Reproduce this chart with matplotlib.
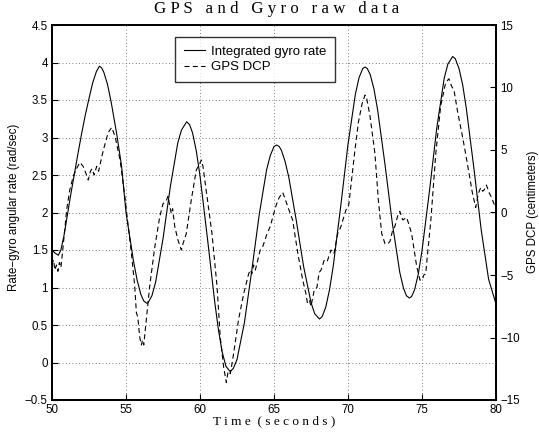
import matplotlib
matplotlib.use("Agg")
import matplotlib.pyplot as plt

# ── data ────────────────────────────────────────────────────────────────────
# integrated gyro rate, rad/sec (left axis)
t_gyro = [50.0, 50.2, 50.43, 50.6, 50.8, 51.0, 51.25, 51.5, 51.75, 52.0,
          52.25, 52.5, 52.75, 53.0, 53.2, 53.35, 53.5, 53.75, 54.0, 54.37,
          54.7, 55.0, 55.5, 55.75, 56.0, 56.2, 56.4, 56.5, 56.75, 57.0,
          57.5, 58.0, 58.5, 58.75, 59.1, 59.3, 59.5, 59.75, 60.0, 60.5,
          61.0, 61.25, 61.5, 61.75, 62.03, 62.25, 62.5, 63.0, 63.5, 64.0,
          64.5, 64.75, 65.0, 65.18, 65.35, 65.5, 65.75, 66.0, 66.5, 67.0,
          67.5, 67.75, 68.07, 68.25, 68.5, 68.75, 69.0, 69.5, 70.0, 70.5,
          70.75, 71.0, 71.15, 71.3, 71.5, 71.75, 72.0, 72.5, 73.0, 73.5,
          73.75, 73.95, 74.15, 74.3, 74.5, 74.75, 75.0, 75.5, 76.0, 76.5,
          76.75, 77.07, 77.25, 77.5, 77.75, 78.0, 78.5, 79.0, 79.5, 80.0]
gyro_rate = [1.50, 1.46, 1.43, 1.50, 1.68, 1.92, 2.22, 2.50, 2.78, 3.05,
             3.30, 3.52, 3.73, 3.88, 3.95, 3.93, 3.87, 3.71, 3.47, 3.05,
             2.62, 2.00, 1.36, 1.10, 0.91, 0.82, 0.79, 0.80, 0.89, 1.07,
             1.65, 2.35, 2.93, 3.10, 3.21, 3.17, 3.06, 2.82, 2.49, 1.66,
             0.80, 0.43, 0.14, -0.05, -0.12, -0.08, 0.04, 0.53, 1.23, 1.97,
             2.57, 2.76, 2.88, 2.90, 2.88, 2.83, 2.68, 2.47, 1.90, 1.28,
             0.80, 0.65, 0.58, 0.61, 0.74, 0.97, 1.28, 2.07, 2.91, 3.58,
             3.80, 3.92, 3.94, 3.92, 3.84, 3.65, 3.37, 2.64, 1.85, 1.20,
             0.99, 0.89, 0.86, 0.88, 0.97, 1.18, 1.49, 2.28, 3.13, 3.79,
             3.98, 4.08, 4.05, 3.92, 3.70, 3.38, 2.60, 1.77, 1.11, 0.78]

# GPS DCP, centimeters (right axis)
t_gps = [50.0, 50.1, 50.2, 50.3, 50.4, 50.5, 50.6, 50.7, 50.85, 51.0,
         51.2, 51.44, 51.65, 51.89, 52.1, 52.3, 52.45, 52.6, 52.7, 52.85,
         53.02, 53.15, 53.24, 53.47, 53.8, 54.03, 54.26, 54.6, 54.93, 55.1,
         55.36, 55.5, 55.59, 55.7, 55.8, 55.93, 56.04, 56.12, 56.2, 56.37,
         56.6, 56.94, 57.27, 57.5, 57.7, 57.84, 57.95, 58.06, 58.15, 58.29,
         58.51, 58.74, 58.85, 59.07, 59.41, 59.75, 60.1, 60.2, 60.47, 60.81,
         61.15, 61.37, 61.6, 61.78, 61.9, 62.05, 62.27, 62.6, 62.95, 63.29,
         63.4, 63.51, 63.62, 63.74, 64.07, 64.25, 64.53, 64.75, 64.98, 65.15,
         65.35, 65.59, 65.75, 65.92, 66.26, 66.6, 66.94, 67.16, 67.25, 67.39,
         67.5, 67.72, 67.9, 68.05, 68.18, 68.4, 68.6, 68.85, 69.05, 69.3,
         69.5, 69.86, 70.05, 70.25, 70.45, 70.7, 70.95, 71.15, 71.25, 71.49,
         71.82, 72.05, 72.28, 72.5, 72.7, 72.84, 73.0, 73.17, 73.35, 73.5,
         73.7, 73.96, 74.1, 74.3, 74.64, 74.86, 75.02, 75.12, 75.25, 75.4,
         75.6, 75.93, 76.26, 76.6, 76.82, 77.0, 77.16, 77.4, 77.7, 77.95,
         78.2, 78.4, 78.63, 78.8, 78.97, 79.1, 79.2, 79.35, 79.53, 79.7,
         79.86, 80.0]
gps_dcp = [-4.2, -3.8, -4.6, -4.2, -4.7, -4.0, -4.4, -3.3, -1.5, 0.3,
           1.8, 2.9, 3.5, 4.0, 3.7, 3.1, 2.6, 3.3, 3.5, 3.0,
           3.7, 3.3, 3.8, 5.0, 6.4, 6.8, 6.1, 4.2, 1.2, -0.6,
           -3.2, -4.8, -5.9, -8.0, -8.4, -10.0, -10.6, -10.2, -10.6, -8.6,
           -5.9, -2.8, -0.4, 0.7, 0.9, 1.3, 0.6, -0.1, 0.3, -1.1,
           -2.2, -3.0, -2.5, -1.7, 1.0, 3.4, 4.2, 3.7, 1.3, -1.7,
           -5.9, -10.0, -12.4, -13.6, -12.7, -12.9, -11.3, -8.6, -6.5, -4.9,
           -4.6, -4.9, -4.2, -4.6, -3.0, -2.7, -1.7, -1.1, -0.1, 0.6,
           1.2, 1.6, 1.1, 0.5, -0.6, -3.2, -5.4, -6.5, -7.2, -7.0,
           -7.5, -6.2, -6.0, -4.8, -4.6, -3.8, -3.9, -3.0, -3.3, -1.7,
           -1.2, 0.2, 0.6, 2.7, 4.8, 7.2, 8.7, 9.4, 9.2, 7.7,
           4.7, 1.0, -1.7, -2.5, -2.5, -2.3, -1.5, -1.1, -0.3, 0.1,
           -0.6, -0.4, -0.9, -1.7, -4.3, -5.4, -5.4, -5.0, -4.9, -3.0,
           -0.6, 4.7, 8.5, 10.4, 10.7, 10.1, 9.8, 8.1, 6.3, 4.7,
           3.0, 1.6, 0.4, 1.5, 2.0, 1.7, 1.8, 2.2, 1.6, 1.2,
           0.7, 0.5]

x_ticks = [50, 55, 60, 65, 70, 75, 80]
left_ticks = [-0.5, 0, 0.5, 1, 1.5, 2, 2.5, 3, 3.5, 4, 4.5]
left_labels = ["\u22120.5", "0", "0.5", "1", "1.5", "2", "2.5", "3", "3.5", "4", "4.5"]
right_ticks = [-15, -10, -5, 0, 5, 10, 15]
right_labels = ["\u221215", "\u221210", "\u22125", "0", "5", "10", "15"]

SANS = "Liberation Sans"
SERIF = "Liberation Serif"

fig = plt.figure(figsize=(5.39, 4.38), dpi=100)
fig.patch.set_facecolor("white")
ax = fig.add_axes([52 / 539, 1 - 400 / 438, 444 / 539, 375 / 438])
ax2 = ax.twinx()

l1, = ax.plot(t_gyro, gyro_rate, color="black", linewidth=0.8,
              label="Integrated gyro rate")
l2, = ax2.plot(t_gps, gps_dcp, color="black", linewidth=0.8,
               linestyle=(0, (4.5, 3)), label="GPS DCP")

ax.set_xlim(50, 80)
ax.set_ylim(-0.5, 4.5)
ax2.set_ylim(-15, 15)

ax.set_xticks(x_ticks, [str(v) for v in x_ticks])
ax.set_yticks(left_ticks, left_labels)
ax2.set_yticks(right_ticks, right_labels)

ax.grid(True, color="#555555", linestyle=(0, (1, 3)), linewidth=0.6)
for a in (ax, ax2):
    for s in a.spines.values():
        s.set_linewidth(1.3)
    a.tick_params(direction="in", length=4, width=0.8, labelsize=8.3,
                  pad=3)
    for lab in a.get_xticklabels() + a.get_yticklabels():
        lab.set_fontfamily(SANS)

leg = ax2.legend(handles=[l1, l2], loc="upper left",
                 bbox_to_anchor=(0.277, 0.968), prop={"family": SANS, "size": 9.5},
                 frameon=True, fancybox=False, edgecolor="black",
                 handlelength=1.6, handletextpad=0.5, borderpad=0.65,
                 labelspacing=0.25, borderaxespad=0)
leg.get_frame().set_linewidth(1.0)

fig.text(0.5 * (52 + 496) / 539 + 0.004, 1 - 9 / 438,
         "G P S   a n d   G y r o   r a w   d a t a",
         ha="center", va="center", fontsize=12.2, family=SERIF)
fig.text(0.5 * (52 + 496) / 539, 1 - 421 / 438, "T i m e  ( s e c o n d s )",
         ha="center", va="center", fontsize=9.5, family=SERIF)
fig.text(8 / 539, 1 - 207 / 438, "Rate\u2212gyro angular rate (rad/sec)",
         ha="left", va="center", rotation=90, fontsize=8.3, family=SANS)
fig.text(527 / 539, 1 - 212 / 438, "GPS DCP (centimeters)",
         ha="left", va="center", rotation=90, fontsize=8.3, family=SANS)

fig.savefig("out.png", dpi=100, facecolor="white")
